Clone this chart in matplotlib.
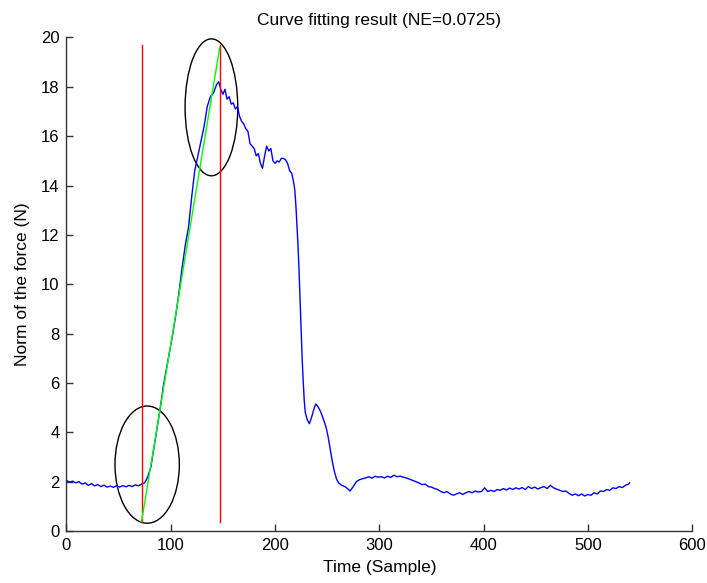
import matplotlib
matplotlib.use('Agg')
from matplotlib import pyplot as plt
from matplotlib.patches import Ellipse

# Measured force curve (sample index, norm of force in N)
t = [0, 3, 6, 9, 12, 15, 18, 21, 24, 27, 30, 33, 36, 39, 42, 45, 48, 51, 54, 57,
     60, 63, 66, 69, 72, 75, 78, 81, 84, 87, 90, 93, 96, 99, 102, 105, 108, 111,
     114, 117, 120, 123, 126, 129, 132, 135, 138, 141, 144, 146, 148, 150, 152,
     154, 156, 158, 160, 162, 164, 166, 168, 170, 172, 174, 176, 178, 180, 182,
     184, 186, 188, 190, 192, 194, 196, 198, 200, 202, 204, 206, 208, 210, 212,
     214, 216, 218, 219, 220, 221, 222, 223, 224, 225, 226, 227, 228, 229, 231,
     233, 235, 237, 239, 241, 243, 245, 247, 249, 251, 253, 255, 257, 259, 261,
     264, 267, 270, 272, 275, 278, 281, 284, 287, 290, 293, 296, 299, 302, 305,
     308, 311, 314, 317, 320, 323, 326, 329, 332, 335, 338, 341, 344, 347, 350,
     353, 356, 359, 362, 365, 368, 371, 374, 377, 380, 383, 386, 389, 392, 395,
     398, 401, 404, 407, 410, 413, 416, 419, 422, 425, 428, 431, 434, 437, 440,
     443, 446, 449, 452, 455, 458, 461, 464, 467, 470, 473, 476, 479, 482, 485,
     488, 491, 494, 497, 500, 503, 506, 509, 512, 515, 518, 521, 524, 527, 530,
     533, 536, 539, 540]
force = [2.05, 1.98, 2.02, 1.95, 2.0, 1.9, 1.95, 1.85, 1.92, 1.83, 1.88, 1.8,
         1.86, 1.78, 1.82, 1.77, 1.83, 1.78, 1.84, 1.79, 1.85, 1.8, 1.87, 1.83,
         1.9, 1.95, 2.2, 2.6, 3.4, 4.2, 5.0, 5.9, 6.6, 7.3, 8.0, 8.8, 9.7, 10.7,
         11.6, 12.3, 13.5, 14.6, 15.2, 15.8, 16.4, 17.2, 17.6, 17.75, 18.1, 18.2,
         17.9, 17.7, 17.9, 17.5, 17.6, 17.3, 17.35, 17.1, 17.2, 16.8, 16.6, 16.5,
         16.3, 16.2, 15.7, 15.6, 15.5, 15.2, 15.3, 14.9, 14.7, 15.2, 15.6, 15.4,
         15.5, 15.0, 14.9, 15.0, 14.95, 15.1, 15.1, 15.05, 14.9, 14.6, 14.5, 14.1,
         13.8, 13.2, 12.4, 11.6, 10.6, 9.4, 8.2, 7.0, 6.1, 5.3, 4.8, 4.5, 4.35,
         4.6, 4.9, 5.15, 5.05, 4.9, 4.7, 4.45, 4.2, 3.8, 3.3, 2.8, 2.4, 2.1, 1.95,
         1.85, 1.8, 1.7, 1.62, 1.8, 2.0, 2.08, 2.12, 2.15, 2.2, 2.14, 2.22, 2.18,
         2.2, 2.15, 2.22, 2.17, 2.26, 2.2, 2.22, 2.18, 2.15, 2.1, 2.05, 2.0, 1.95,
         1.88, 1.9, 1.8, 1.78, 1.72, 1.68, 1.6, 1.55, 1.6, 1.5, 1.45, 1.5, 1.55,
         1.48, 1.55, 1.6, 1.55, 1.62, 1.58, 1.6, 1.75, 1.6, 1.65, 1.6, 1.68, 1.65,
         1.72, 1.66, 1.74, 1.68, 1.75, 1.7, 1.76, 1.68, 1.8, 1.72, 1.78, 1.7, 1.76,
         1.8, 1.72, 1.85, 1.75, 1.7, 1.65, 1.6, 1.62, 1.52, 1.45, 1.5, 1.43, 1.5,
         1.42, 1.48, 1.45, 1.55, 1.5, 1.62, 1.6, 1.68, 1.65, 1.75, 1.72, 1.8, 1.76,
         1.85, 1.9, 1.95]

# Fitted segment and its boundaries
fit_t = [72, 147]
fit_force = [0.38, 19.6]
bounds = [72, 147]
bound_y = [0.38, 19.7]

# Ellipses marking start/end of the fit: (center x, center y, width, height)
ellipses = [(77.4, 2.69, 61.7, 4.75), (139.0, 17.17, 50.5, 5.55)]

plt.rcParams['font.family'] = ['Liberation Sans', 'DejaVu Sans']
plt.rcParams['font.size'] = 12

fig = plt.figure(figsize=(7.07, 5.83), dpi=100)
ax = fig.add_axes([0.094, 0.0892, 0.885, 0.8465])

ax.plot(t, force, color='#0000ff', lw=1.0)
for b in bounds:
    ax.plot([b, b], bound_y, color='#ff0000', lw=1.0)
ax.plot(fit_t, fit_force, color='#00ff00', lw=1.0)
for cx, cy, w, h in ellipses:
    ax.add_patch(Ellipse((cx, cy), w, h, fill=False, edgecolor='black', lw=1.0))

ax.set_xlim(0, 600)
ax.set_ylim(0, 20)
ax.set_xticks(range(0, 601, 100))
ax.set_yticks(range(0, 21, 2))
ax.tick_params(direction='in', length=5, width=1, colors='#333333',
               labelcolor='black', labelsize=12, pad=5)
ax.spines['top'].set_visible(False)
ax.spines['right'].set_visible(False)
for s in ('left', 'bottom'):
    ax.spines[s].set_color('#333333')
    ax.spines[s].set_linewidth(1)

ax.set_title('Curve fitting result (NE=0.0725)', fontsize=12.5, pad=9)
ax.set_xlabel('Time (Sample)', fontsize=12.5, labelpad=5)
ax.set_ylabel('Norm of the force (N)', fontsize=12.5, labelpad=8)

fig.savefig('out.png', dpi=100)
